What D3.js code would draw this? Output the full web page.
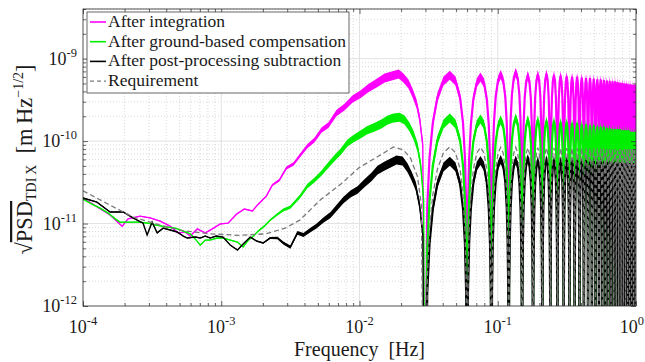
<!DOCTYPE html>
<html>
<head>
<meta charset="utf-8">
<script src="https://cdn.jsdelivr.net/npm/d3@7"></script>
<style>
  body { margin: 0; background: #fff; }
</style>
</head>
<body>
<div id="chart"></div>
<script>
// ---- data ----
// low-frequency part (below the first TDI null), frequency in Hz, value in m Hz^-1/2
var integF = [1.0e-4, 1.24e-4, 1.57e-4, 1.92e-4, 2.12e-4, 2.59e-4, 3.06e-4, 3.61e-4, 4.27e-4, 4.88e-4, 5.48e-4, 5.96e-4, 6.70e-4, 7.66e-4, 8.61e-4, 9.84e-4, 1.12e-3, 1.29e-3, 1.47e-3, 1.68e-3, 1.85e-3, 2.12e-3, 2.34e-3, 2.63e-3, 2.96e-3, 3.33e-3, 3.73e-3, 4.20e-3, 4.72e-3, 5.31e-3, 5.96e-3, 6.81e-3, 7.78e-3, 8.89e-3, 1.02e-2, 1.16e-2, 1.33e-2, 1.52e-2, 1.71e-2, 1.92e-2, 2.08e-2, 2.26e-2, 2.42e-2, 2.59e-2, 2.72e-2, 2.87e-2];
var integV = [2.04e-11, 1.63e-11, 1.27e-11, 9.3e-12, 1.14e-11, 1.23e-11, 1.17e-11, 1.07e-11, 9.3e-12, 7.7e-12, 7.9e-12, 7.05e-12, 8.6e-12, 7.7e-12, 8.6e-12, 9.9e-12, 1.01e-11, 1.30e-11, 1.50e-11, 1.42e-11, 1.72e-11, 2.15e-11, 2.93e-11, 3.36e-11, 4.71e-11, 5.26e-11, 6.76e-11, 8.7e-11, 1.03e-10, 1.36e-10, 1.56e-10, 2.18e-10, 2.58e-10, 3.23e-10, 3.72e-10, 4.38e-10, 5.05e-10, 5.81e-10, 6.14e-10, 6.49e-10, 5.81e-10, 4.91e-10, 3.82e-10, 2.81e-10, 1.90e-10, 8.96e-11];

var groundF = [1.0e-4, 1.16e-4, 1.33e-4, 1.52e-4, 1.71e-4, 1.85e-4, 2.19e-4, 2.59e-4, 2.96e-4, 3.38e-4, 3.99e-4, 4.65e-4, 5.31e-4, 5.96e-4, 6.59e-4, 7.05e-4, 7.66e-4, 8.31e-4, 9.35e-4, 1.03e-3, 1.16e-3, 1.31e-3, 1.44e-3, 1.57e-3, 1.71e-3, 1.85e-3, 2.05e-3, 2.26e-3, 2.51e-3, 2.81e-3, 3.16e-3, 3.73e-3, 4.20e-3, 4.72e-3, 5.31e-3, 5.86e-3, 6.59e-3, 7.28e-3, 8.18e-3, 9.20e-3, 1.03e-2, 1.14e-2, 1.29e-2, 1.44e-2, 1.60e-2, 1.76e-2, 1.95e-2, 2.12e-2, 2.30e-2, 2.46e-2, 2.63e-2, 2.77e-2, 2.91e-2];
var groundV = [1.98e-11, 1.72e-11, 1.54e-11, 1.34e-11, 1.14e-11, 1.04e-11, 1.04e-11, 1.04e-11, 1.01e-11, 9.6e-12, 9.1e-12, 8.8e-12, 8.1e-12, 7.5e-12, 6.3e-12, 5.48e-12, 6.3e-12, 6.3e-12, 6.67e-12, 6.67e-12, 6.3e-12, 5.97e-12, 5.19e-12, 6.3e-12, 7.05e-12, 8.1e-12, 9.3e-12, 1.10e-11, 1.27e-11, 1.46e-11, 1.58e-11, 2.15e-11, 2.85e-11, 3.36e-11, 4.09e-11, 4.98e-11, 6.22e-11, 7.36e-11, 9.46e-11, 1.09e-10, 1.22e-10, 1.36e-10, 1.48e-10, 1.61e-10, 1.80e-10, 1.90e-10, 1.95e-10, 1.80e-10, 1.48e-10, 1.18e-10, 8.45e-11, 5.12e-11, 1.93e-11];

var postF = [1.0e-4, 1.26e-4, 1.57e-4, 1.95e-4, 2.30e-4, 2.72e-4, 2.91e-4, 3.16e-4, 3.44e-4, 3.80e-4, 4.27e-4, 4.80e-4, 5.31e-4, 5.68e-4, 6.49e-4, 7.05e-4, 7.66e-4, 8.31e-4, 9.20e-4, 1.03e-3, 1.16e-3, 1.31e-3, 1.44e-3, 1.62e-3, 1.80e-3, 2.01e-3, 2.26e-3, 2.55e-3, 2.81e-3, 3.16e-3, 3.56e-3, 3.93e-3, 4.42e-3, 4.88e-3, 5.48e-3, 6.17e-3, 6.81e-3, 7.66e-3, 8.61e-3, 9.68e-3, 1.09e-2, 1.22e-2, 1.35e-2, 1.52e-2, 1.68e-2, 1.85e-2, 2.05e-2, 2.23e-2, 2.38e-2, 2.55e-2, 2.72e-2, 2.87e-2];
var postV = [2.04e-11, 1.82e-11, 1.38e-11, 1.38e-11, 1.17e-11, 1.01e-11, 7.26e-12, 1.04e-11, 7.7e-12, 8.8e-12, 8.34e-12, 7.9e-12, 7.05e-12, 6.67e-12, 6.86e-12, 6.67e-12, 7.05e-12, 6.67e-12, 7.05e-12, 6.86e-12, 5.48e-12, 4.78e-12, 5.65e-12, 6.86e-12, 6.14e-12, 5.81e-12, 6.67e-12, 6.67e-12, 5.81e-12, 5.19e-12, 7.7e-12, 7.26e-12, 8.34e-12, 9.3e-12, 1.10e-11, 1.27e-11, 1.54e-11, 1.93e-11, 2.28e-11, 2.55e-11, 3.10e-11, 3.66e-11, 4.45e-11, 4.98e-11, 5.41e-11, 5.89e-11, 5.72e-11, 4.71e-11, 3.77e-11, 2.85e-11, 1.67e-11, 7.26e-12];

var reqF = [1.0e-4, 1.57e-4, 2.3e-4, 3.6e-4, 5.0e-4, 8.3e-4, 1.37e-3, 2.1e-3, 2.9e-3, 3.7e-3, 5.2e-3, 7.3e-3, 1.0e-2, 1.42e-2, 1.76e-2, 2.08e-2, 2.34e-2, 2.63e-2, 2.8e-2];
var reqV = [2.5e-11, 1.67e-11, 1.2e-11, 9.6e-12, 8.3e-12, 7.5e-12, 7.2e-12, 7.5e-12, 8.8e-12, 1.1e-11, 1.93e-11, 3.0e-11, 4.8e-11, 6.8e-11, 8.5e-11, 7.8e-11, 6.2e-11, 3.7e-11, 1.67e-11];

// TDI nulls (Hz) and the arch level of each lobe between two nulls
var notchFreqs = [0.03, 0.06, 0.09, 0.12, 0.15, 0.18, 0.21, 0.24, 0.27, 0.30, 0.33, 0.36, 0.39, 0.42, 0.45, 0.48, 0.51, 0.54, 0.57, 0.60, 0.63, 0.66, 0.69, 0.72, 0.75, 0.78, 0.81, 0.84, 0.87, 0.90, 0.93, 0.96, 0.99, 1.02];
var integPeaks = [6.3e-10, 6.0e-10, 6.4e-10, 6.8e-10, 6.2e-10, 6.4e-10, 6.5e-10, 6.3e-10, 6.2e-10, 6.1e-10, 6.0e-10, 6.0e-10, 5.9e-10, 5.8e-10, 5.8e-10, 5.7e-10, 5.6e-10, 5.6e-10, 5.5e-10, 5.4e-10, 5.4e-10, 5.3e-10, 5.3e-10, 5.2e-10, 5.1e-10, 5.1e-10, 5.0e-10, 5.0e-10, 4.9e-10, 4.9e-10, 4.8e-10, 4.8e-10, 4.8e-10];
var groundPeaks = [1.9e-10, 1.85e-10, 1.8e-10, 1.9e-10, 1.8e-10, 1.8e-10, 1.75e-10, 1.75e-10, 1.7e-10, 1.7e-10, 1.65e-10, 1.65e-10, 1.6e-10, 1.6e-10, 1.55e-10, 1.55e-10, 1.5e-10, 1.5e-10, 1.5e-10, 1.45e-10, 1.45e-10, 1.4e-10, 1.4e-10, 1.4e-10, 1.4e-10, 1.35e-10, 1.35e-10, 1.35e-10, 1.35e-10, 1.3e-10, 1.3e-10, 1.3e-10, 1.3e-10];
var postPeaks = [5.7e-11, 5.8e-11, 6.0e-11, 5.9e-11, 6.1e-11, 5.8e-11, 6.0e-11, 5.9e-11, 5.8e-11, 5.9e-11, 5.8e-11, 5.8e-11, 5.7e-11, 5.8e-11, 5.7e-11, 5.7e-11, 5.6e-11, 5.7e-11, 5.6e-11, 5.6e-11, 5.6e-11, 5.5e-11, 5.6e-11, 5.5e-11, 5.5e-11, 5.5e-11, 5.4e-11, 5.5e-11, 5.4e-11, 5.4e-11, 5.4e-11, 5.4e-11, 5.4e-11];
var reqPeaks = [8.5e-11, 8.4e-11, 8.4e-11, 8.4e-11, 8.3e-11, 8.3e-11, 8.3e-11, 8.3e-11, 8.2e-11, 8.2e-11, 8.2e-11, 8.2e-11, 8.2e-11, 8.1e-11, 8.1e-11, 8.1e-11, 8.1e-11, 8.1e-11, 8.1e-11, 8.0e-11, 8.0e-11, 8.0e-11, 8.0e-11, 8.0e-11, 8.0e-11, 8.0e-11, 8.0e-11, 8.0e-11, 8.0e-11, 8.0e-11, 8.0e-11, 8.0e-11, 8.0e-11];

// arch shape of one lobe: position inside the lobe, drop below its top (decades)
var lobeT = [0, 0.03, 0.07, 0.13, 0.22, 0.35, 0.5, 0.65, 0.78, 0.87, 0.93, 0.97, 1];
var lobeDrop = [-4, -1.6, -1.0, -0.58, -0.27, -0.07, 0, -0.07, -0.27, -0.58, -1.0, -1.6, -4];

var legendNames = ["After integration", "After ground-based compensation", "After post-processing subtraction", "Requirement"];
var xTicks = [1e-4, 1e-3, 1e-2, 1e-1, 1];
var yTicks = [1e-12, 1e-11, 1e-10, 1e-9];

// ---- layout ----
var svgWidth = 645;
var svgHeight = 362;
var plot = { left: 83, right: 636, top: 9, bottom: 306 };
var serif = "'Liberation Serif', 'Times New Roman', Times, 'DejaVu Serif', serif";

var svg = d3.select("#chart")
    .append("svg")
    .attr("width", svgWidth)
    .attr("height", svgHeight)
    .attr("font-family", serif)
    .style("font-family", serif);

var xScale = d3.scaleLog().domain([1e-4, 1]).range([plot.left, plot.right]);
var yScale = d3.scaleLog().domain([1e-12, 4e-9]).range([plot.bottom, plot.top]);

svg.append("clipPath").attr("id", "plotClip")
    .append("rect")
    .attr("x", plot.left).attr("y", plot.top)
    .attr("width", plot.right - plot.left).attr("height", plot.bottom - plot.top);

// minor / major grid values
var xMinor = [], yMinor = [];
xTicks.slice(0, -1).forEach(function(d) { for (var k = 2; k < 10; k++) xMinor.push(d * k); });
[1e-12, 1e-11, 1e-10, 1e-9].forEach(function(d) { for (var k = 2; k < 10; k++) if (d * k <= 4e-9) yMinor.push(d * k); });

var grid = svg.append("g");
grid.selectAll("line.xmin").data(xMinor).enter().append("line")
    .attr("x1", d => xScale(d)).attr("x2", d => xScale(d))
    .attr("y1", plot.top).attr("y2", plot.bottom)
    .attr("stroke", "#d0d0d0").attr("stroke-dasharray", "1,2").attr("stroke-width", 0.8);
grid.selectAll("line.ymin").data(yMinor).enter().append("line")
    .attr("y1", d => yScale(d)).attr("y2", d => yScale(d))
    .attr("x1", plot.left).attr("x2", plot.right)
    .attr("stroke", "#d0d0d0").attr("stroke-dasharray", "1,2").attr("stroke-width", 0.8);
grid.selectAll("line.xmaj").data(xTicks.slice(1, -1)).enter().append("line")
    .attr("x1", d => xScale(d)).attr("x2", d => xScale(d))
    .attr("y1", plot.top).attr("y2", plot.bottom)
    .attr("stroke", "#e2e2e2").attr("stroke-width", 1);
grid.selectAll("line.ymaj").data(yTicks.slice(1)).enter().append("line")
    .attr("y1", d => yScale(d)).attr("y2", d => yScale(d))
    .attr("x1", plot.left).attr("x2", plot.right)
    .attr("stroke", "#e2e2e2").attr("stroke-width", 1);

// build a series: explicit low-frequency points, then one arch per lobe
function lobePoints(peaks) {
    var pts = [];
    for (var i = 0; i < notchFreqs.length - 1; i++) {
        var f0 = notchFreqs[i], f1 = notchFreqs[i + 1];
        lobeT.forEach(function(t, k) {
            pts.push({ f: f0 + (f1 - f0) * t, v: peaks[i] * Math.pow(10, lobeDrop[k]) });
        });
    }
    return pts;
}
function lowPoints(fs, vs) {
    var pts = fs.map(function(f, i) { return { f: f, v: vs[i] }; });
    pts.push({ f: notchFreqs[0], v: 1e-16 });
    return pts;
}

// noise band thickness grows with frequency (pixels)
function bandHalf(f) {
    var w = 0.5 + (Math.log10(f) + 2.75) * 4.5;
    return Math.max(0.5, Math.min(4.5, w));
}

var line = d3.line().x(d => xScale(d.f)).y(d => yScale(d.v));
var band = d3.area()
    .x(d => xScale(d.f))
    .y0(d => yScale(d.v) + bandHalf(d.f))
    .y1(d => yScale(d.v) - bandHalf(d.f));

var chartGroup = svg.append("g").attr("clip-path", "url(#plotClip)");

var series = [
    { low: lowPoints(integF, integV), lobes: lobePoints(integPeaks), color: "#ff00ff" },
    { low: lowPoints(groundF, groundV), lobes: lobePoints(groundPeaks), color: "#00ee00" },
    { low: lowPoints(postF, postV), lobes: lobePoints(postPeaks), color: "#000000" }
];
series.forEach(function(s) {
    var all = s.low.concat(s.lobes);
    chartGroup.append("path").attr("d", band(all)).attr("fill", s.color).attr("stroke", "none");
    chartGroup.append("path").attr("d", line(s.low))
        .attr("fill", "none").attr("stroke", s.color).attr("stroke-width", 1.4);
    chartGroup.append("path").attr("d", line(s.lobes))
        .attr("fill", "none").attr("stroke", s.color).attr("stroke-width", 2.2);
});
chartGroup.append("path")
    .attr("d", line(lowPoints(reqF, reqV).concat(lobePoints(reqPeaks))))
    .attr("fill", "none").attr("stroke", "#7a7a7a")
    .attr("stroke-width", 1.3).attr("stroke-dasharray", "5,3");

// axes (ticks inside, box on)
var axisColor = "#262626";
function addAxis(axisFn, scale, majors, minors, transform, len) {
    var g = svg.append("g").attr("transform", transform);
    g.call(axisFn(scale).tickValues(minors).tickSize(-len * 0.6).tickFormat(""));
    g.selectAll(".domain").remove();
    var g2 = svg.append("g").attr("transform", transform);
    g2.call(axisFn(scale).tickValues(majors).tickSize(-len).tickFormat(""));
    g2.selectAll(".domain").remove();
    svg.selectAll(".tick line").attr("stroke", axisColor).attr("stroke-width", 0.7);
}
addAxis(d3.axisBottom, xScale, xTicks, xMinor, `translate(0, ${plot.bottom})`, 5);
addAxis(d3.axisTop, xScale, xTicks, xMinor, `translate(0, ${plot.top})`, 5);
addAxis(d3.axisLeft, yScale, yTicks, yMinor, `translate(${plot.left}, 0)`, 5);
addAxis(d3.axisRight, yScale, yTicks, yMinor, `translate(${plot.right}, 0)`, 5);

svg.append("rect")
    .attr("x", plot.left).attr("y", plot.top)
    .attr("width", plot.right - plot.left).attr("height", plot.bottom - plot.top)
    .attr("fill", "none").attr("stroke", axisColor).attr("stroke-width", 0.8);

// tick labels 10^n
function expOf(d) { return Math.round(Math.log10(d)); }
var xLab = svg.append("g").selectAll("text").data(xTicks).enter().append("text")
    .attr("x", d => d === 1 ? 644 : xScale(d)).attr("y", 333)
    .attr("text-anchor", d => d === 1 ? "end" : "middle")
    .style("font-family", serif).style("font-size", "18px").attr("fill", "#1a1a1a");
xLab.append("tspan").text("10");
xLab.append("tspan").attr("dy", -8).style("font-size", "12.5px").text(d => expOf(d) === 0 ? "0" : "-" + (-expOf(d)));

var yLab = svg.append("g").selectAll("text").data(yTicks).enter().append("text")
    .attr("x", 77).attr("y", d => yScale(d) + 6)
    .attr("text-anchor", "end")
    .style("font-family", serif).style("font-size", "18px").attr("fill", "#1a1a1a");
yLab.append("tspan").text("10");
yLab.append("tspan").attr("dy", -8).style("font-size", "12.5px").text(d => "-" + (-expOf(d)));

// axis titles
svg.append("text")
    .attr("x", (plot.left + plot.right) / 2).attr("y", 356)
    .attr("text-anchor", "middle")
    .style("font-family", serif).style("font-size", "20px").attr("fill", "#1a1a1a")
    .text("Frequency\u00a0\u00a0[Hz]");

var yTitle = svg.append("text")
    .attr("transform", `translate(32, ${(plot.top + plot.bottom) / 2 + 2}) rotate(-90)`)
    .attr("text-anchor", "middle")
    .style("font-family", serif).style("font-size", "22.5px").attr("fill", "#1a1a1a");
yTitle.append("tspan").text("\u221a");
yTitle.append("tspan").style("text-decoration", "overline").text("PSD");
yTitle.append("tspan").attr("dy", 4).style("font-size", "14px").text("TDI\u2009X");
yTitle.append("tspan").attr("dy", -4).text("\u00a0\u00a0[m\u2009Hz");
yTitle.append("tspan").attr("dy", -9).style("font-size", "14px").text("\u22121/2");
yTitle.append("tspan").attr("dy", 9).text("]");

// legend
var legend = svg.append("g");
legend.append("rect")
    .attr("x", 87).attr("y", 12).attr("width", 262).attr("height", 81)
    .attr("fill", "#fff").attr("stroke", axisColor).attr("stroke-width", 0.7);
var legendColors = ["#ff00ff", "#00ee00", "#000000", "#7a7a7a"];
legendNames.forEach(function(name, i) {
    var yy = 22 + i * 19.7;
    legend.append("line")
        .attr("x1", 90).attr("x2", 106).attr("y1", yy).attr("y2", yy)
        .attr("stroke", legendColors[i]).attr("stroke-width", i === 3 ? 1.2 : 1.6)
        .attr("stroke-dasharray", i === 3 ? "4,3" : null);
    legend.append("text")
        .attr("x", 108).attr("y", yy + 5)
        .style("font-family", serif).style("font-size", "17.5px").attr("fill", "#1a1a1a")
        .text(name);
});
</script>
</body>
</html>
